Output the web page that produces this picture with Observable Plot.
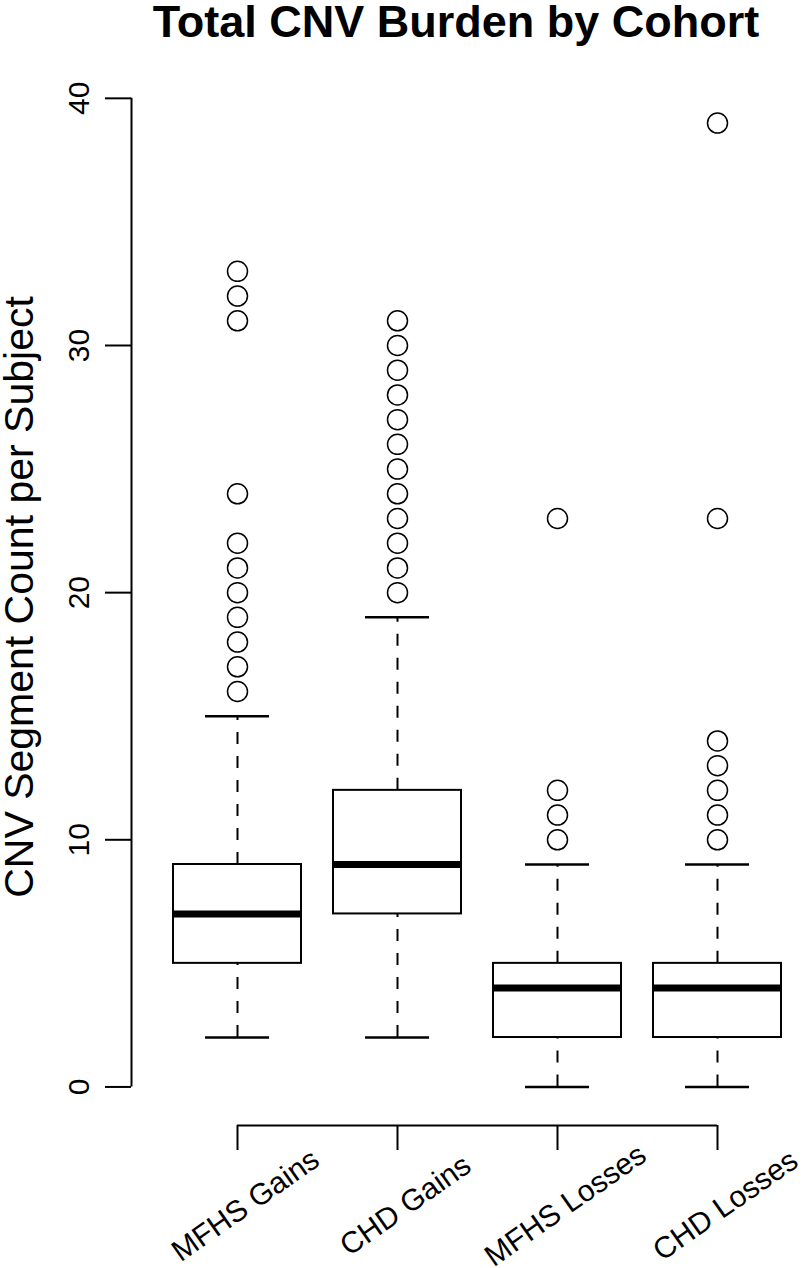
<!DOCTYPE html>
<html>
<head>
<meta charset="utf-8">
<script src="https://cdn.jsdelivr.net/npm/d3@7"></script>
<script src="https://cdn.jsdelivr.net/npm/@observablehq/plot@0.6"></script>
<style>
  html, body { margin: 0; padding: 0; background: #ffffff; }
  #title { position: relative; height: 60px; width: 805px; }
  #title span {
    position: absolute; top: -1px; left: 107px; right: 0;
    text-align: center; white-space: nowrap;
    font: bold 45px/45px "Liberation Sans", Arial, Helvetica, sans-serif; color: #000;
  }
  #chart svg { display: block; }
</style>
</head>
<body>
<div id="title"><span>Total CNV Burden by Cohort</span></div>
<div id="chart"></div>
<script>
// ---- data ----
const cohorts = ["MFHS Gains", "CHD Gains", "MFHS Losses", "CHD Losses"];
const lowerWhisker  = [2, 2, 0, 0];
const lowerQuartile = [5, 7, 2, 2];
const medians       = [7, 9, 4, 4];
const upperQuartile = [9, 12, 5, 5];
const upperWhisker  = [15, 19, 9, 9];
const outliersMFHSGains  = [16, 17, 18, 19, 20, 21, 22, 24, 31, 32, 33];
const outliersCHDGains   = [20, 21, 22, 23, 24, 25, 26, 27, 28, 29, 30, 31];
const outliersMFHSLosses = [10, 11, 12, 23];
const outliersCHDLosses  = [10, 11, 12, 13, 14, 23, 39];
const yTicks = [0, 10, 20, 30, 40];
const yLabel = "CNV Segment Count per Subject";

// ---- tables built from the arrays ----
const outlierGroups = [outliersMFHSGains, outliersCHDGains, outliersMFHSLosses, outliersCHDLosses];
const boxes = cohorts.map((name, i) => ({
  name, pos: i + 1,
  lo: lowerWhisker[i], q1: lowerQuartile[i], med: medians[i],
  q3: upperQuartile[i], hi: upperWhisker[i]
}));
const outliers = outlierGroups.flatMap((vals, i) => vals.map(v => ({pos: i + 1, value: v})));
const positions = boxes.map(b => b.pos);

const xDomain = [0.3375, 4.55];
const yDomain = [-1.56, 40.56];
const halfBox = 0.4, halfCap = 0.2;
const font = "Liberation Sans, Arial, Helvetica, sans-serif";

const chart = Plot.plot({
  width: 805,
  height: 1208,
  marginTop: 24,
  marginBottom: 143,
  marginLeft: 131,
  marginRight: 0,
  style: {fontFamily: font, background: "#ffffff", color: "#000", overflow: "visible"},
  x: {type: "linear", domain: xDomain, axis: null, label: null},
  y: {type: "linear", domain: yDomain, axis: null, label: null},
  marks: [
    // axis lines
    Plot.ruleX([xDomain[0]], {x: d => d, y1: yTicks[0], y2: yTicks[yTicks.length - 1], stroke: "#000", strokeWidth: 2}),
    Plot.ruleY([yDomain[0]], {y: d => d, x1: positions[0], x2: positions[positions.length - 1], stroke: "#000", strokeWidth: 2}),
    Plot.axisY({ticks: yTicks, tickSize: 26, tickFormat: () => "", strokeWidth: 2, label: null}),
    Plot.axisX({ticks: positions, tickSize: 25, tickFormat: () => "", strokeWidth: 2, label: null}),
    // tick labels
    Plot.text(yTicks, {y: d => d, text: d => String(d), frameAnchor: "left", dx: -43,
      rotate: -90, textAnchor: "middle", lineAnchor: "bottom", fontSize: 30, fill: "#000"}),
    Plot.text(boxes, {x: "pos", text: "name", frameAnchor: "bottom", dy: 80, dx: 8,
      rotate: -35, textAnchor: "middle", lineAnchor: "middle", fontSize: 30, fill: "#000"}),
    // y label
    Plot.text([yLabel], {text: d => d, frameAnchor: "left", dx: -99, dy: -8,
      rotate: -90, textAnchor: "middle", lineAnchor: "bottom", fontSize: 41, fill: "#000"}),
    // whiskers (dashed)
    Plot.ruleX(boxes, {x: "pos", y1: "q3", y2: "hi", stroke: "#000", strokeWidth: 2, strokeDasharray: "12,12"}),
    Plot.ruleX(boxes, {x: "pos", y1: "lo", y2: "q1", stroke: "#000", strokeWidth: 2, strokeDasharray: "12,12"}),
    // whisker caps
    Plot.ruleY(boxes, {y: "hi", x1: d => d.pos - halfCap, x2: d => d.pos + halfCap, stroke: "#000", strokeWidth: 2.5}),
    Plot.ruleY(boxes, {y: "lo", x1: d => d.pos - halfCap, x2: d => d.pos + halfCap, stroke: "#000", strokeWidth: 2.5}),
    // boxes
    Plot.rect(boxes, {x1: d => d.pos - halfBox, x2: d => d.pos + halfBox, y1: "q1", y2: "q3",
      fill: "#ffffff", stroke: "#000", strokeWidth: 2}),
    // medians
    Plot.ruleY(boxes, {y: "med", x1: d => d.pos - halfBox, x2: d => d.pos + halfBox, stroke: "#000", strokeWidth: 7}),
    // outliers
    Plot.dot(outliers, {x: "pos", y: "value", r: 10, stroke: "#000", strokeWidth: 1.5, fill: "none"})
  ]
});
document.getElementById("chart").appendChild(chart);
</script>
</body>
</html>
